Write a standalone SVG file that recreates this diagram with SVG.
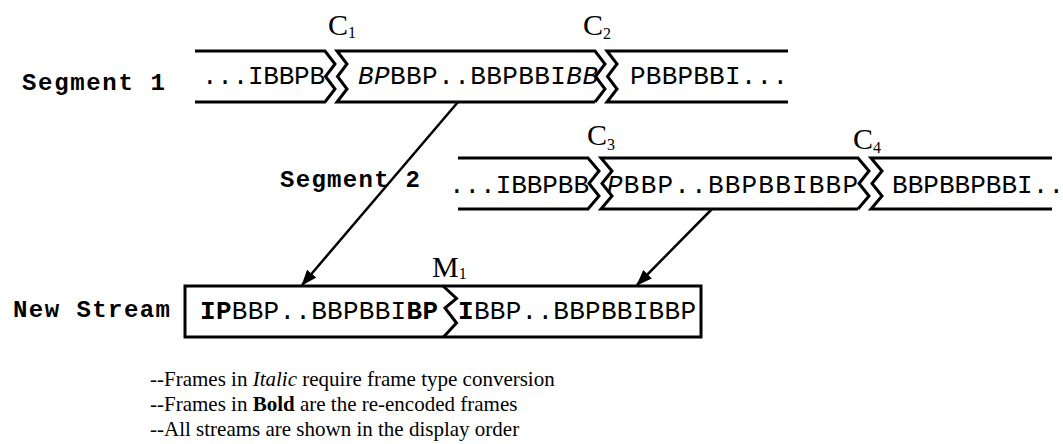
<svg xmlns="http://www.w3.org/2000/svg" width="1063" height="444" viewBox="0 0 1063 444">
<style>
.ln{fill:none;stroke:#000;stroke-width:3;stroke-linejoin:miter}
.cn{fill:none;stroke:#000;stroke-width:2.5}
.lab{font-family:"Liberation Mono","Courier New",monospace;font-weight:bold;font-size:24px;fill:#000}
.st{font-family:"Liberation Mono","Courier New",monospace;font-size:26px;fill:#000}
.cut{font-family:"Liberation Serif","Times New Roman",serif;font-size:30px;fill:#000}
.sub{font-family:"Liberation Serif","Times New Roman",serif;font-size:16px;fill:#000}
.note{font-family:"Liberation Serif","Times New Roman",serif;font-size:21px;fill:#000}
.i{font-style:italic}
.b{font-weight:bold}
</style>
<defs>
<marker id="ah" viewBox="0 0 16 12" refX="15" refY="6" markerWidth="16" markerHeight="12" markerUnits="userSpaceOnUse" orient="auto">
<path d="M0,0 L16,6 L0,12 Z" fill="#000"/>
</marker>
</defs>

<g id="segment1">
<text class="lab" x="22" y="90" textLength="143" lengthAdjust="spacing">Segment 1</text>
<path class="ln" d="M195,51 H325 L335,64 L325.5,76.5 L335,89 L325,102 H195"/>
<path class="ln" d="M595,102 H337 L347,89 L337.5,76.5 L347,64 L337,51 H595 L605,64 L595.5,76.5 L605,89 L595,102"/>
<path class="ln" d="M788,51 H607 L617,64 L607.5,76.5 L617,89 L607,102 H788"/>
<text class="st" x="202" y="84" textLength="123" lengthAdjust="spacing">...IBBPB</text>
<text class="st" x="358" y="84" textLength="240" lengthAdjust="spacing"><tspan class="i">BP</tspan>BBP..BBPBBI<tspan class="i">BB</tspan></text>
<text class="st" x="630" y="84" textLength="158" lengthAdjust="spacing">PBBPBBI...</text>
</g>

<g id="segment2">
<text class="lab" x="280" y="187" textLength="140" lengthAdjust="spacing">Segment 2</text>
<path class="ln" d="M458,158 H588 L599,171 L589,183.5 L599,196 L588,209 H458"/>
<path class="ln" d="M858,209 H601 L612,196 L602,183.5 L612,171 L601,158 H858 L869,171 L859,183.5 L869,196 L858,209"/>
<path class="ln" d="M1052,158 H871 L882,171 L872,183.5 L882,196 L871,209 H1052"/>
<text class="st" x="449" y="193" textLength="140" lengthAdjust="spacing">...IBBPBB</text>
<text class="st" x="607" y="193" textLength="251" lengthAdjust="spacing"><tspan class="i">P</tspan>BBP..BBPBBIBBP</text>
<text class="st" x="892" y="193" textLength="172" lengthAdjust="spacing">BBPBBPBBI..</text>
</g>

<g id="new-stream">
<text class="lab" x="13" y="317" textLength="157" lengthAdjust="spacing">New Stream</text>
<rect class="ln" x="185" y="286" width="516" height="51"/>
<path class="ln" d="M443,286 L456.5,298.5 L445,308 L456.5,323 L443.5,337"/>
<text class="st" x="200" y="319" textLength="238" lengthAdjust="spacing"><tspan class="b">IP</tspan>BBP..BBPBBI<tspan class="b">BP</tspan></text>
<text class="st" x="458" y="319" textLength="238" lengthAdjust="spacing"><tspan class="b">I</tspan>BBP..BBPBBIBBP</text>
</g>

<g id="cut-labels">
<text class="cut" x="328" y="35">C<tspan class="sub" dy="3">1</tspan></text>
<text class="cut" x="583" y="35">C<tspan class="sub" dy="4">2</tspan></text>
<text class="cut" x="587" y="145">C<tspan class="sub" dy="5">3</tspan></text>
<text class="cut" x="853" y="149">C<tspan class="sub" dy="4">4</tspan></text>
<text class="cut" x="432" y="277">M<tspan class="sub" dy="2">1</tspan></text>
</g>

<g id="connectors">
<line class="cn" x1="458" y1="102" x2="302" y2="285" marker-end="url(#ah)"/>
<line class="cn" x1="712" y1="209" x2="637" y2="285" marker-end="url(#ah)"/>
</g>

<g id="notes">
<text class="note" x="150" y="386">--Frames in <tspan class="i">Italic</tspan> require frame type conversion</text>
<text class="note" x="150" y="411">--Frames in <tspan class="b">Bold</tspan> are the re-encoded frames</text>
<text class="note" x="150" y="436">--All streams are shown in the display order</text>
</g>
</svg>
